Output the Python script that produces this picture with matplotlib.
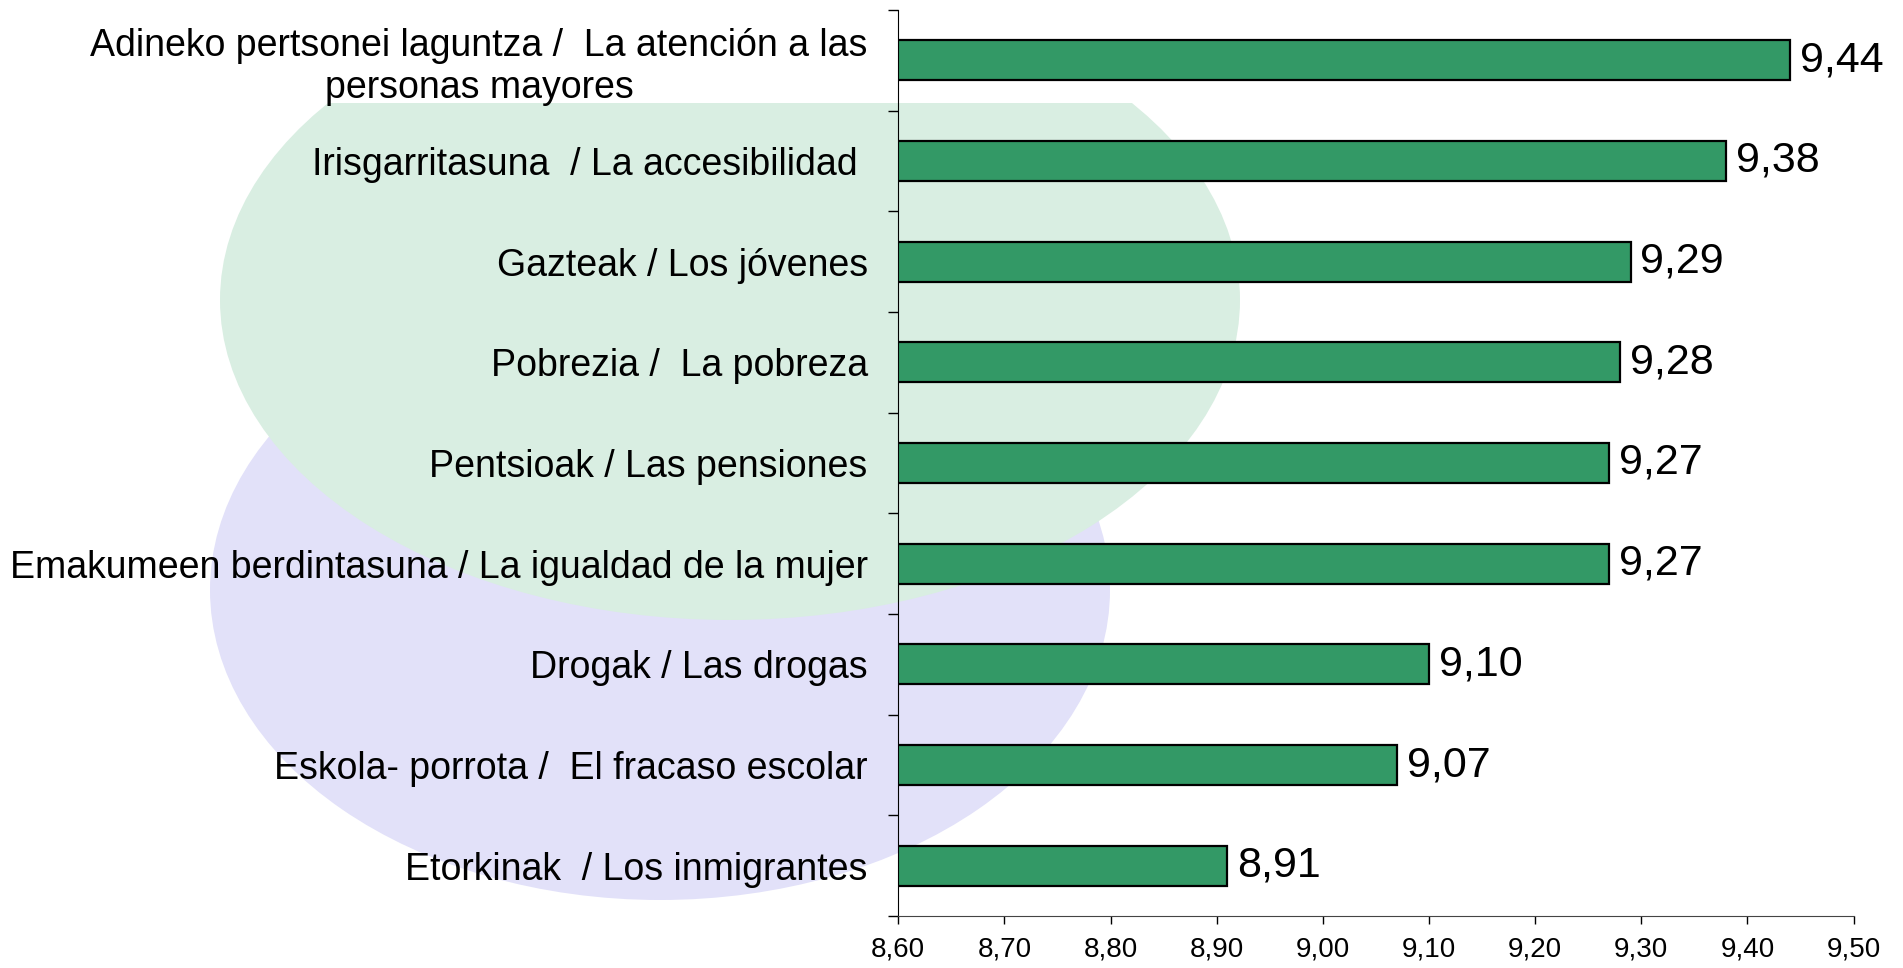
import numpy as np
import matplotlib
matplotlib.use('Agg')
import matplotlib.pyplot as plt
from matplotlib.patches import Ellipse, Rectangle

plt.rcParams['font.family'] = ['Liberation Sans', 'DejaVu Sans']

categories = [
    'Adineko pertsonei laguntza /  La atención a las\npersonas mayores',
    'Irisgarritasuna  / La accesibilidad ',
    'Gazteak / Los jóvenes',
    'Pobrezia /  La pobreza',
    'Pentsioak / Las pensiones',
    'Emakumeen berdintasuna / La igualdad de la mujer',
    'Drogak / Las drogas',
    'Eskola- porrota /  El fracaso escolar',
    'Etorkinak  / Los inmigrantes',
]
values = [9.44, 9.38, 9.29, 9.28, 9.27, 9.27, 9.10, 9.07, 8.91]
xticks = [8.6, 8.7, 8.8, 8.9, 9.0, 9.1, 9.2, 9.3, 9.4, 9.5]

fig = plt.figure(figsize=(19.03, 9.68), dpi=100)

# faint logo behind the chart (pixel coordinates of the figure)
bg = fig.add_axes([0, 0, 1, 1], zorder=-1)
bg.set_xlim(0, 1903)
bg.set_ylim(968, 0)
bg.axis('off')
clip = Rectangle((0, 103), 1903, 900, transform=bg.transData)
lav = Ellipse((660, 590), 900, 620, facecolor='#e2e1f9', edgecolor='none')
grn = Ellipse((730, 300), 1020, 640, facecolor='#d9eee2', edgecolor='none')
for p in (lav, grn):
    bg.add_patch(p)
    p.set_clip_path(clip)

ax = fig.add_axes([0.472, 0.0537, 0.502, 0.936])
ax.patch.set_alpha(0)

y = np.arange(len(categories))
ax.barh(y, values, height=0.4, color='#339966', edgecolor='black', linewidth=1.6, zorder=2)
for yi, v in zip(y, values):
    ax.annotate(f'{v:.2f}'.replace('.', ','), (v, yi), xytext=(7, 0), textcoords='offset points',
                va='center', ha='left', fontsize=31)

ax.set_xlim(8.6, 9.5)
ax.set_ylim(len(categories) - 0.5, -0.5)
ax.set_xticks(xticks)
ax.set_xticklabels([f'{t:.2f}'.replace('.', ',') for t in xticks], fontsize=20)
ax.tick_params(axis='x', direction='out', length=6, width=1, pad=9)

ax.set_yticks(np.arange(-0.5, len(categories), 1.0))
ax.set_yticklabels([])
ax.set_yticks(y, minor=True)
ax.set_yticklabels(categories, minor=True, fontsize=27, multialignment='center')
ax.tick_params(axis='y', which='major', direction='out', length=7, width=1)
ax.tick_params(axis='y', which='minor', length=0, pad=22)

for s in ('top', 'right'):
    ax.spines[s].set_visible(False)
ax.spines['left'].set_color('black')
ax.spines['bottom'].set_color('#444444')

fig.savefig('out.png', dpi=100)
